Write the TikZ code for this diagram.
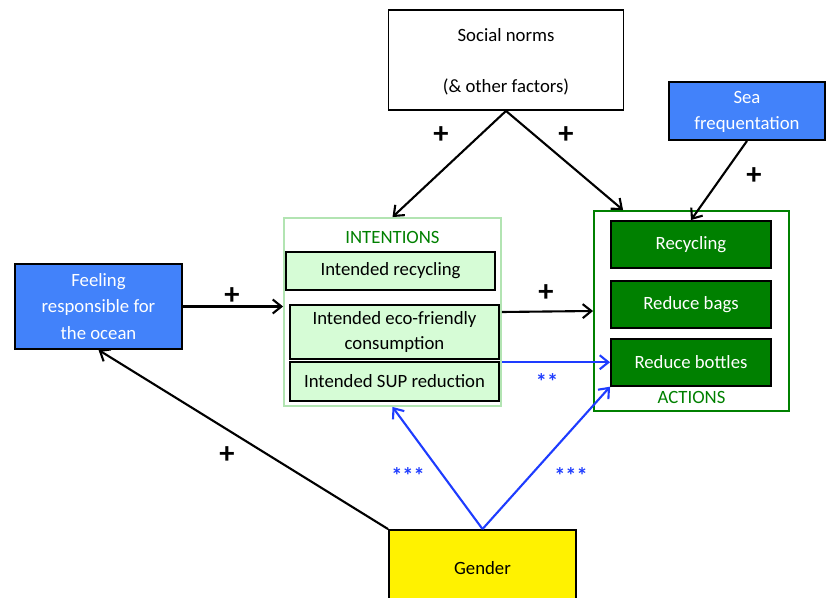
\documentclass[tikz,border=0pt]{standalone}
\usepackage{fontspec}
\setmainfont{Carlito}
\usetikzlibrary{arrows.meta,positioning}

\definecolor{boxblue}{RGB}{66,130,250}
\definecolor{actgreen}{RGB}{0,128,0}
\definecolor{intgreen}{RGB}{214,252,214}
\definecolor{intedge}{RGB}{178,228,178}
\definecolor{linkblue}{RGB}{30,60,255}

\begin{document}
\begin{tikzpicture}[x=0.03cm, y=-0.03cm,
  every node/.style={font=\fontsize{16}{21}\selectfont},
  box/.style={draw, line width=1.6pt, align=center},
  factor/.style={box, fill=boxblue, text=white},
  intent/.style={box, fill=intgreen, minimum width=6.27cm},
  action/.style={box, fill=actgreen, text=white, minimum width=4.8cm, minimum height=1.41cm},
  arr/.style={-{Straight Barb[length=2.6mm, width=4.2mm]}, line width=1.8pt},
  barr/.style={arr, linkblue},
  plus/.style={font=\fontsize{26}{26}\selectfont\bfseries},
  stars/.style={text=linkblue, font=\fontsize{19}{19}\selectfont\bfseries}
]
\useasboundingbox (0,0) rectangle (826,598);

% outer boxes
\node[draw=intedge, line width=1.6pt, minimum width=6.51cm, minimum height=5.64cm] (int) at (392.5,312) {};
\node[draw=actgreen, line width=1.6pt, minimum width=5.85cm, minimum height=6cm] (act) at (691.5,311) {};
\node[text=actgreen] (inttitle) at (392.5,237) {INTENTIONS};
\node[text=actgreen] (acttitle) at (691.5,397) {ACTIONS};

% intentions
\node[intent, minimum height=1.14cm] (irec) at (390.5,271) {Intended recycling};
\node[intent, minimum height=1.62cm] (ieco) at (394.5,332) {Intended eco-friendly\\consumption};
\node[intent, minimum height=1.17cm] (isup) at (394.5,381.5) {Intended SUP reduction};

% actions
\node[action] (arec) at (691,244.5) {Recycling};
\node[action, below=0.33cm of arec] (abag) {Reduce bags};
\node[action, below=0.27cm of abag] (abot) {Reduce bottles};

% factors
\node[box, fill=white, minimum width=7.05cm, minimum height=3cm] (soc) at (506,60) {\\[-0.25cm]Social norms\\[0.78cm](\& other factors)};
\node[factor, minimum width=4.68cm, minimum height=1.74cm] (sea) at (747,111) {\\[-0.3cm]Sea\\[0.05cm]frequentation};
\node[factor, minimum width=5.01cm, minimum height=2.55cm] (feel) at (98.5,306.5) {Feeling\\[0.05cm]responsible for\\[0.05cm]the ocean};
\node[box, fill=yellow, minimum width=5.61cm, minimum height=2.28cm] (gen) at (482.5,568) {Gender};

% links
\draw[arr] (soc.south) -- (int.north);
\draw[arr] (soc.south) -- ([xshift=0.9cm]act.north west);
\draw[arr] (sea.south) -- (arec.north);
\draw[arr] (feel.east) -- (feel.east -| int.west);
\draw[arr] (int.east) -- (act.west);
\draw[barr] (abot.west -| int.east) -- (abot.west);
\draw[barr] (gen.north) -- (int.south);
\draw[barr] (gen.north) -- (abot.south west);
\draw[arr] (gen.north west) -- (feel.south);

% signs
\node[plus] (p1) at (441,135) {+};
\node[plus] (p2) at (566,135) {+};
\node[plus] (p3) at (754,176) {+};
\node[plus] (p4) at (232,296) {+};
\node[plus] (p5) at (546,293) {+};
\node[plus] (p6) at (227,455) {+};
\node[stars] (s1) at (547,382) {**};
\node[stars] (s2) at (408,476) {***};
\node[stars] (s3) at (571,476) {***};
\end{tikzpicture}
\end{document}
